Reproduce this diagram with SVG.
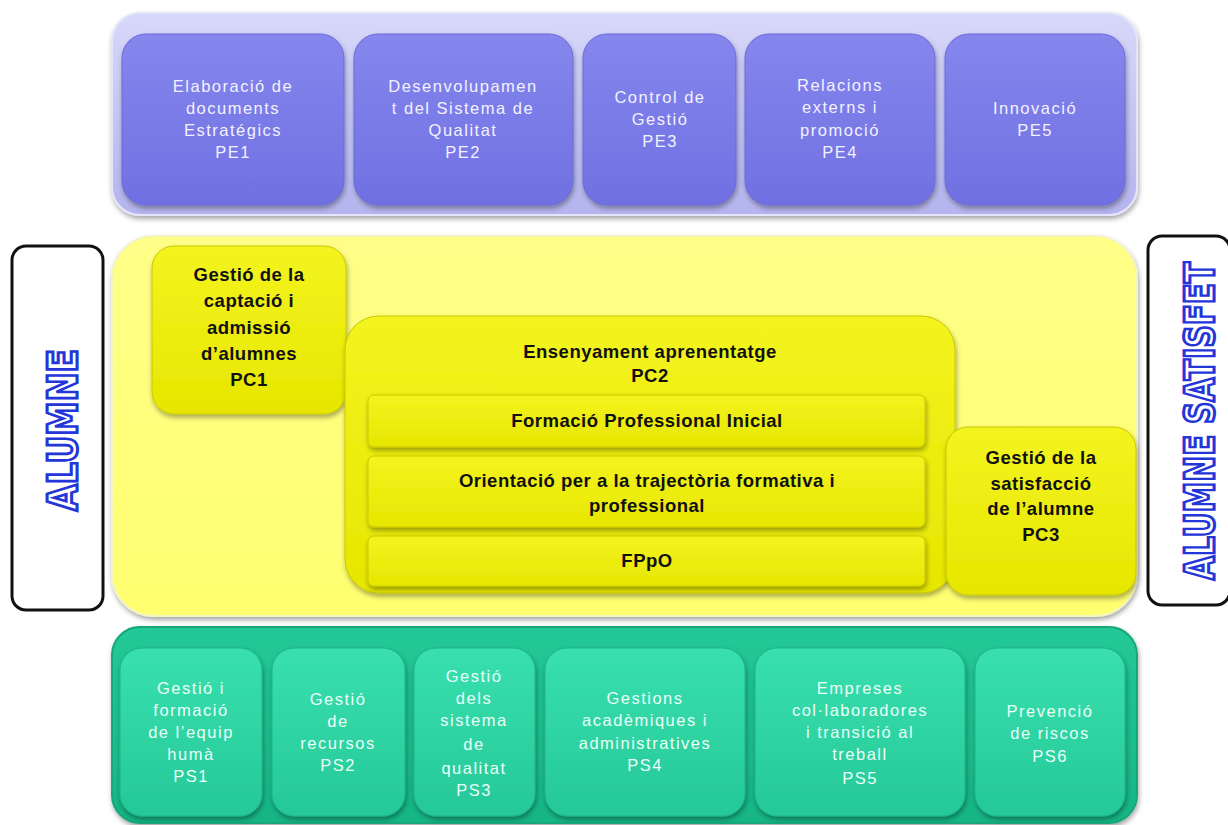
<svg xmlns="http://www.w3.org/2000/svg" width="1228" height="825" viewBox="0 0 1228 825">
<defs>
<linearGradient id="gBandTop" x1="0" y1="0" x2="0" y2="1"><stop offset="0" stop-color="#d8d8fa"/><stop offset="1" stop-color="#b4b4ee"/></linearGradient>
<linearGradient id="gPE" x1="0" y1="0" x2="0" y2="1"><stop offset="0" stop-color="#8686ee"/><stop offset="1" stop-color="#7070e2"/></linearGradient>
<linearGradient id="gBandY" x1="0" y1="0" x2="0" y2="1"><stop offset="0" stop-color="#ffff88"/><stop offset="1" stop-color="#ffff70"/></linearGradient>
<linearGradient id="gPC" x1="0" y1="0" x2="0" y2="1"><stop offset="0" stop-color="#f4f420"/><stop offset="1" stop-color="#e6e600"/></linearGradient>
<linearGradient id="gBandG" x1="0" y1="0" x2="0" y2="1"><stop offset="0" stop-color="#22c996"/><stop offset="1" stop-color="#17b584"/></linearGradient>
<linearGradient id="gPS" x1="0" y1="0" x2="0" y2="1"><stop offset="0" stop-color="#38e0ae"/><stop offset="1" stop-color="#26c898"/></linearGradient>
<filter id="sh" x="-10%" y="-10%" width="120%" height="125%"><feDropShadow dx="1" dy="3" stdDeviation="2.5" flood-color="#000" flood-opacity="0.35"/></filter>
</defs>
<style>
.pe{fill:url(#gPE);stroke:#6a6ad8;stroke-width:1}
.pc{fill:url(#gPC);stroke:#c8c800;stroke-width:1}
.ps{fill:url(#gPS);stroke:#1fb489;stroke-width:1}
.tw{font-family:"Liberation Sans",Arial,sans-serif;font-size:16.5px;fill:#f2f2ff;text-anchor:middle;letter-spacing:1.5px}
.tg{font-family:"Liberation Sans",Arial,sans-serif;font-size:16.5px;fill:#eafff8;text-anchor:middle;letter-spacing:1.5px}
.tb{font-family:"Liberation Sans",Arial,sans-serif;font-size:18.5px;font-weight:bold;fill:#111;text-anchor:middle;letter-spacing:0.5px}
.side{font-family:"DejaVu Sans","Liberation Sans",sans-serif;font-weight:bold;font-size:40px;fill:#fff;stroke:#2436d8;stroke-width:3px;text-anchor:middle;dominant-baseline:central}
</style>
<rect width="1228" height="825" fill="#ffffff"/>

<g id="band-estrategics">
<rect x="112" y="13" width="1025" height="202" rx="28" fill="url(#gBandTop)" stroke="#e4e4fa" stroke-width="2" filter="url(#sh)"/>
</g>
<g id="PE1"><rect class="pe" x="122" y="34" width="222" height="171" rx="24" filter="url(#sh)"/>
<text class="tw"><tspan x="233" y="92">Elaboració de</tspan><tspan x="233" y="114">documents</tspan><tspan x="233" y="136">Estratégics</tspan><tspan x="233" y="158">PE1</tspan></text></g>
<g id="PE2"><rect class="pe" x="354" y="34" width="219" height="171" rx="24" filter="url(#sh)"/>
<text class="tw"><tspan x="463" y="92">Desenvolupamen</tspan><tspan x="463" y="114">t del Sistema de</tspan><tspan x="463" y="136">Qualitat</tspan><tspan x="463" y="158">PE2</tspan></text></g>
<g id="PE3"><rect class="pe" x="583" y="34" width="153" height="171" rx="24" filter="url(#sh)"/>
<text class="tw"><tspan x="660" y="103">Control de</tspan><tspan x="660" y="125">Gestió</tspan><tspan x="660" y="147">PE3</tspan></text></g>
<g id="PE4"><rect class="pe" x="745" y="34" width="190" height="171" rx="24" filter="url(#sh)"/>
<text class="tw"><tspan x="840" y="91">Relacions</tspan><tspan x="840" y="113">externs i</tspan><tspan x="840" y="136">promoció</tspan><tspan x="840" y="158">PE4</tspan></text></g>
<g id="PE5"><rect class="pe" x="945" y="34" width="180" height="171" rx="24" filter="url(#sh)"/>
<text class="tw"><tspan x="1035" y="114">Innovació</tspan><tspan x="1035" y="136">PE5</tspan></text></g>

<g id="band-clau">
<rect x="112" y="236" width="1025" height="380" rx="42" fill="url(#gBandY)" stroke="#f4f4c0" stroke-width="2" filter="url(#sh)"/>
</g>
<g id="PC1"><rect class="pc" x="152" y="246" width="194" height="168" rx="22" filter="url(#sh)"/>
<text class="tb"><tspan x="249" y="281">Gestió de la</tspan><tspan x="249" y="307">captació i</tspan><tspan x="249" y="334">admissió</tspan><tspan x="249" y="360">d’alumnes</tspan><tspan x="249" y="386">PC1</tspan></text></g>
<g id="PC2"><rect class="pc" x="345" y="316" width="610" height="277" rx="34" filter="url(#sh)"/>
<text class="tb"><tspan x="650" y="358">Ensenyament aprenentatge</tspan><tspan x="650" y="382">PC2</tspan></text>
<g id="FPI"><rect class="pc" x="368" y="395" width="557" height="52" rx="6" filter="url(#sh)"/>
<text class="tb" x="647" y="427">Formació Professional Inicial</text></g>
<g id="Orientacio"><rect class="pc" x="368" y="456" width="557" height="71" rx="6" filter="url(#sh)"/>
<text class="tb"><tspan x="647" y="487">Orientació per a  la trajectòria formativa i</tspan><tspan x="647" y="512">professional</tspan></text></g>
<g id="FPpO"><rect class="pc" x="368" y="536" width="557" height="50" rx="6" filter="url(#sh)"/>
<text class="tb" x="647" y="567">FPpO</text></g>
</g>
<g id="PC3"><rect class="pc" x="946" y="427" width="190" height="168" rx="22" filter="url(#sh)"/>
<text class="tb"><tspan x="1041" y="464">Gestió de la</tspan><tspan x="1041" y="490">satisfacció</tspan><tspan x="1041" y="515">de l’alumne</tspan><tspan x="1041" y="541">PC3</tspan></text></g>

<g id="ALUMNE"><rect x="12" y="246" width="91" height="364" rx="14" fill="#fff" stroke="#111" stroke-width="3"/>
<text class="side" transform="translate(63,430) rotate(-90)" textLength="162" lengthAdjust="spacingAndGlyphs">ALUMNE</text></g>
<g id="ALUMNE-SATISFET"><rect x="1148" y="236" width="82" height="369" rx="14" fill="#fff" stroke="#111" stroke-width="3"/>
<text class="side" transform="translate(1200,421) rotate(-90)" textLength="318" lengthAdjust="spacingAndGlyphs">ALUMNE SATISFET</text></g>

<g id="band-suport">
<rect x="112" y="627" width="1025" height="196" rx="28" fill="url(#gBandG)" stroke="#14a87a" stroke-width="2" filter="url(#sh)"/>
</g>
<g id="PS1"><rect class="ps" x="120" y="648" width="142" height="168" rx="22" filter="url(#sh)"/>
<text class="tg"><tspan x="191" y="694">Gestió i</tspan><tspan x="191" y="716">formació</tspan><tspan x="191" y="738">de l’equip</tspan><tspan x="191" y="760">humà</tspan><tspan x="191" y="782">PS1</tspan></text></g>
<g id="PS2"><rect class="ps" x="272" y="648" width="133" height="168" rx="22" filter="url(#sh)"/>
<text class="tg"><tspan x="338" y="705">Gestió</tspan><tspan x="338" y="727">de</tspan><tspan x="338" y="749">recursos</tspan><tspan x="338" y="771">PS2</tspan></text></g>
<g id="PS3"><rect class="ps" x="414" y="648" width="121" height="168" rx="22" filter="url(#sh)"/>
<text class="tg"><tspan x="474" y="682">Gestió</tspan><tspan x="474" y="704">dels</tspan><tspan x="474" y="726">sistema</tspan><tspan x="474" y="750">de</tspan><tspan x="474" y="774">qualitat</tspan><tspan x="474" y="796">PS3</tspan></text></g>
<g id="PS4"><rect class="ps" x="545" y="648" width="200" height="168" rx="22" filter="url(#sh)"/>
<text class="tg"><tspan x="645" y="704">Gestions</tspan><tspan x="645" y="726">acadèmiques i</tspan><tspan x="645" y="749">administratives</tspan><tspan x="645" y="771">PS4</tspan></text></g>
<g id="PS5"><rect class="ps" x="755" y="648" width="210" height="168" rx="22" filter="url(#sh)"/>
<text class="tg"><tspan x="860" y="694">Empreses</tspan><tspan x="860" y="716">col·laboradores</tspan><tspan x="860" y="738">i transició al</tspan><tspan x="860" y="760">treball</tspan><tspan x="860" y="784">PS5</tspan></text></g>
<g id="PS6"><rect class="ps" x="975" y="648" width="150" height="168" rx="22" filter="url(#sh)"/>
<text class="tg"><tspan x="1050" y="717">Prevenció</tspan><tspan x="1050" y="739">de riscos</tspan><tspan x="1050" y="762">PS6</tspan></text></g>
<g id="connectors"/>
</svg>
